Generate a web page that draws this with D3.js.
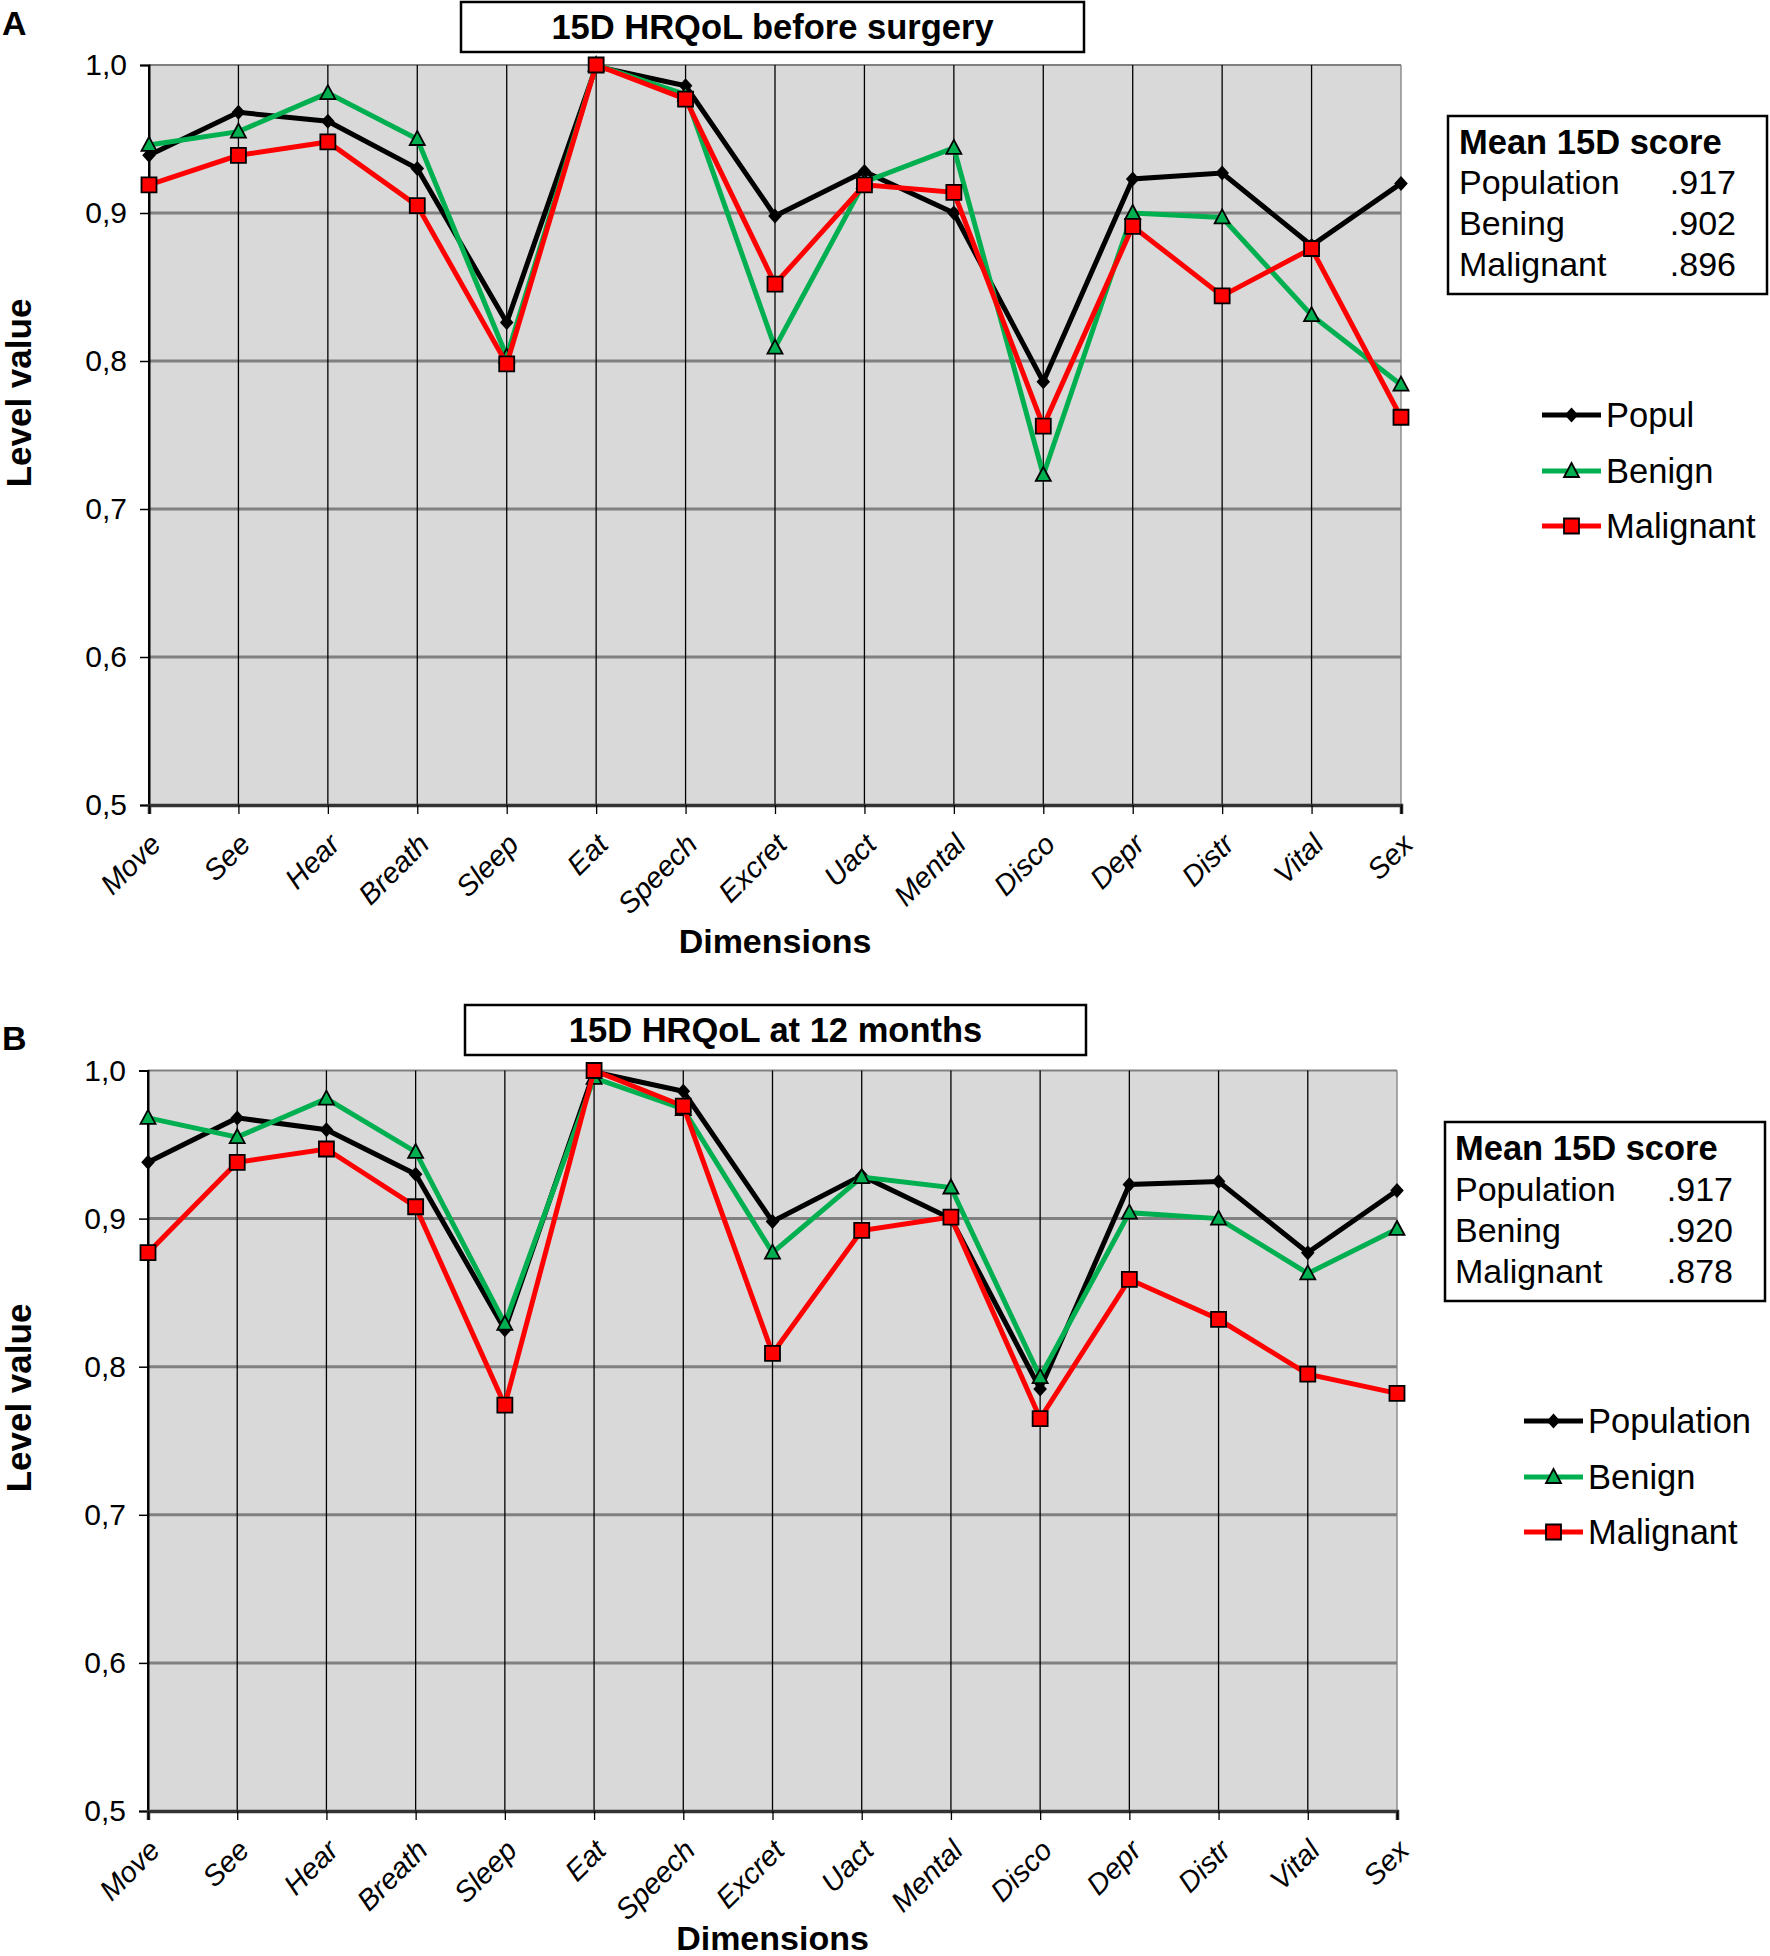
<!DOCTYPE html>
<html><head><meta charset="utf-8">
<script src="https://cdn.jsdelivr.net/npm/d3@7"></script>
<style>html,body{margin:0;padding:0;background:#fff}svg{display:block}text{font-family:"Liberation Sans",Arial,sans-serif}</style>
</head><body>
<svg id="chart" width="1770" height="1956"></svg>
<script>
const dimensions = ["Move","See","Hear","Breath","Sleep","Eat","Speech","Excret","Uact","Mental","Disco","Depr","Distr","Vital","Sex"];
const yTicks = [0.5,0.6,0.7,0.8,0.9,1.0];
const popA = [0.939,0.968,0.962,0.930,0.826,0.999,0.986,0.898,0.928,0.900,0.786,0.923,0.927,0.878,0.920];
const benA = [0.946,0.955,0.981,0.950,0.803,1.000,0.980,0.809,0.921,0.944,0.723,0.900,0.897,0.831,0.784];
const malA = [0.919,0.939,0.948,0.905,0.798,1.000,0.977,0.852,0.919,0.914,0.756,0.891,0.844,0.876,0.762];
const popB = [0.938,0.968,0.960,0.930,0.825,0.999,0.986,0.898,0.929,0.900,0.785,0.923,0.925,0.877,0.919];
const benB = [0.968,0.955,0.981,0.945,0.829,0.995,0.974,0.877,0.928,0.921,0.793,0.904,0.900,0.863,0.893];
const malB = [0.877,0.938,0.947,0.908,0.774,1.000,0.976,0.809,0.892,0.901,0.765,0.859,0.832,0.795,0.782];
const legendA = ["Popul","Benign","Malignant"];
const legendB = ["Population","Benign","Malignant"];
const meanLabels = ["Population","Bening","Malignant"];
const meanA = [".917",".902",".896"];
const meanB = [".917",".920",".878"];
const titleA = "15D HRQoL before surgery";
const titleB = "15D HRQoL at 12 months";

const svg = d3.select("#chart");
const colors = ["#000000","#00b050","#ff0000"];
const markers = ["diamond","triangle","square"];

function markerPath(type){
  if(type==="diamond") return "M0,-7.5L6.8,0L0,7.5L-6.8,0Z";
  if(type==="triangle") return "M0,-8L7.5,6L-7.5,6Z";
  return "M-7.5,-7.5H7.5V7.5H-7.5Z";
}

function drawPanel(p){
  const g = svg.append("g");
  const x = d3.scalePoint().domain(dimensions).range([p.x0, p.x1]);
  const y = d3.scaleLinear().domain([0.5,1.0]).range([p.yBot, p.yTop]);
  g.append("rect").attr("x",p.x0).attr("y",p.yTop).attr("width",p.x1-p.x0).attr("height",p.yBot-p.yTop).attr("fill","#d9d9d9");
  g.selectAll(".hg").data(yTicks.filter(t=>t>0.5)).join("line")
    .attr("x1",p.x0).attr("x2",p.x1).attr("y1",d=>y(d)).attr("y2",d=>y(d))
    .attr("stroke","#808080").attr("stroke-width",d=>d===1.0?2:3);
  g.selectAll(".vg").data(dimensions).join("line")
    .attr("x1",d=>x(d)).attr("x2",d=>x(d)).attr("y1",p.yTop).attr("y2",p.yBot)
    .attr("stroke",(d,i)=>i===dimensions.length-1?"#808080":"#000").attr("stroke-width",(d,i)=>i===0?2:1.3);
  const ya = g.append("g").attr("transform",`translate(${p.x0},0)`)
    .call(d3.axisLeft(y).tickValues(yTicks).tickSize(9).tickPadding(13).tickFormat(d=>d3.format(".1f")(d).replace(".",",")));
  ya.select(".domain").attr("stroke","#000").attr("stroke-width",2);
  ya.selectAll(".tick line").attr("stroke","#000").attr("stroke-width",1.5);
  ya.selectAll(".tick text").attr("font-size",30).attr("fill","#000").attr("font-family","Liberation Sans, Arial");
  const xa = g.append("g").attr("transform",`translate(0,${p.yBot})`)
    .call(d3.axisBottom(x).tickSize(9).tickFormat(d=>d));
  xa.select(".domain").attr("stroke","#333").attr("stroke-width",3.5);
  xa.selectAll(".tick line").attr("stroke","#000").attr("stroke-width",1.3);
  xa.selectAll(".tick text").attr("font-size",29).attr("font-style","italic").attr("fill","#000")
    .attr("font-family","Liberation Sans, Arial")
    .attr("text-anchor","end").attr("y",0).attr("dy","0.35em")
    .attr("transform","translate(6,34) rotate(-45)");
  const line = d3.line().x((d,i)=>x(dimensions[i])).y(d=>y(d));
  p.series.forEach((s,k)=>{
    g.append("path").datum(s).attr("d",line).attr("fill","none")
      .attr("stroke",colors[k]).attr("stroke-width",5).attr("stroke-linejoin","miter");
    g.selectAll(".m"+k).data(s).join("path")
      .attr("transform",(d,i)=>`translate(${x(dimensions[i])},${y(d)})`)
      .attr("d",markerPath(markers[k]))
      .attr("fill",colors[k]).attr("stroke","#000").attr("stroke-width",k===0?0:1.8);
  });
  g.append("text").attr("x",p.letterX).attr("y",p.letterY).text(p.letter)
    .attr("font-size",34).attr("font-weight","bold");
  g.append("rect").attr("x",p.tb[0]).attr("y",p.tb[1]).attr("width",p.tb[2]).attr("height",p.tb[3])
    .attr("fill","#fff").attr("stroke","#000").attr("stroke-width",2.5);
  g.append("text").attr("x",p.tb[0]+p.tb[2]/2).attr("y",p.tb[1]+p.tb[3]/2).attr("dy","0.36em")
    .attr("text-anchor","middle").attr("font-size",34.5).attr("font-weight","bold").text(p.title);
  g.append("text").attr("transform",`translate(${p.yTitleX},${p.yTitleY}) rotate(-90)`)
    .attr("text-anchor","middle").attr("font-size",35).attr("font-weight","bold").text("Level value");
  g.append("text").attr("x",(p.x0+p.x1)/2).attr("y",p.xTitleY).attr("text-anchor","middle")
    .attr("font-size",34).attr("font-weight","bold").text("Dimensions");
  const mb = p.mb;
  g.append("rect").attr("x",mb[0]).attr("y",mb[1]).attr("width",mb[2]).attr("height",mb[3])
    .attr("fill","#fff").attr("stroke","#000").attr("stroke-width",2.5);
  g.append("text").attr("x",p.mbTextX).attr("y",p.mbBase[0]).attr("font-size",34.5).attr("font-weight","bold").text("Mean 15D score");
  meanLabels.forEach((l,i)=>{
    g.append("text").attr("x",p.mbTextX).attr("y",p.mbBase[i+1]).attr("font-size",34).text(l);
    g.append("text").attr("x",p.mbValX).attr("y",p.mbBase[i+1]).attr("font-size",34).attr("text-anchor","end").text(p.means[i]);
  });
  p.legend.forEach((l,k)=>{
    const ly = p.legY[k];
    g.append("line").attr("x1",p.legX).attr("x2",p.legX+59).attr("y1",ly).attr("y2",ly)
      .attr("stroke",colors[k]).attr("stroke-width",5);
    g.append("path").attr("transform",`translate(${p.legX+29.5},${ly})`).attr("d",markerPath(markers[k]))
      .attr("fill",colors[k]).attr("stroke","#000").attr("stroke-width",k===0?0:1.8);
    g.append("text").attr("x",p.legX+64).attr("y",ly).attr("dy","0.36em").attr("font-size",34.5).text(l);
  });
}

drawPanel({x0:149,x1:1401,yTop:65,yBot:805,series:[popA,benA,malA],letter:"A",letterX:2,letterY:35,
  tb:[461,2,623,50],title:titleA,yTitleX:31,yTitleY:393,xTitleY:953,
  mb:[1448,116,319,178],mbTextX:1459,mbValX:1736,mbBase:[154,194,235,276],means:meanA,
  legend:legendA,legX:1542,legY:[415,471,526]});
drawPanel({x0:148,x1:1397,yTop:1070.5,yBot:1811,series:[popB,benB,malB],letter:"B",letterX:2,letterY:1050,
  tb:[465,1005,621,50],title:titleB,yTitleX:31,yTitleY:1398,xTitleY:1950,
  mb:[1445,1122,320,179],mbTextX:1455,mbValX:1733,mbBase:[1160,1201,1242,1283],means:meanB,
  legend:legendB,legX:1524,legY:[1421,1477,1532]});
</script>
</body></html>
